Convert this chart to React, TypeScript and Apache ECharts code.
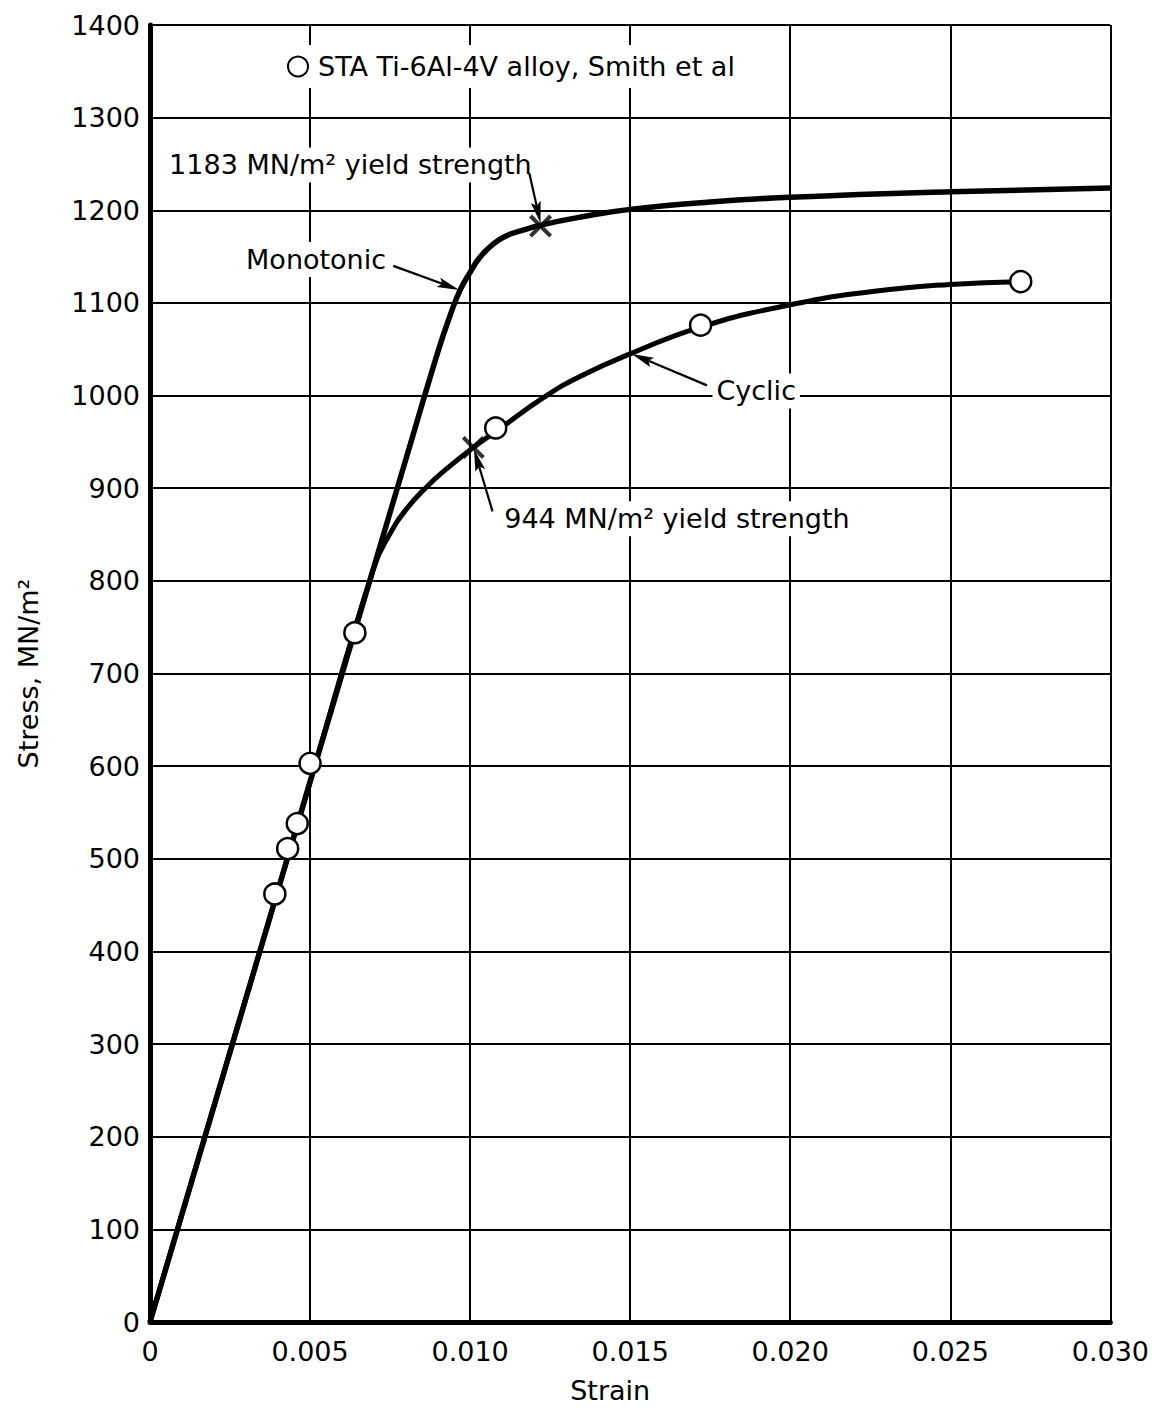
import React, { useEffect, useRef } from 'react';
import * as echarts from 'echarts';

const FONT = 'DejaVu Sans';

// Tick labels
const xTickLabels = ['0', '0.005', '0.010', '0.015', '0.020', '0.025', '0.030'];

// Monotonic stress-strain curve (strain, MN/m^2)
const monotonicStrain = [0, 0.005, 0.008, 0.009, 0.00937, 0.00969, 0.0100, 0.0103, 0.0107, 0.0111, 0.0116, 0.0122, 0.0135, 0.0150, 0.0175, 0.0200, 0.0250, 0.0300];
const monotonicStress = [0, 583, 932, 1048, 1086, 1114, 1133, 1149, 1163, 1172, 1178, 1184, 1193, 1201, 1209, 1214, 1220, 1224];

// Cyclic stress-strain curve
const cyclicStrain = [0, 0.005, 0.0070, 0.0075, 0.0080, 0.0086, 0.0093, 0.0101, 0.0108, 0.0123, 0.0134, 0.0150, 0.0172, 0.0200, 0.0225, 0.0250, 0.0272];
const cyclicStress = [0, 583, 815, 851, 877, 900, 922, 944, 961, 998, 1020, 1045, 1074, 1098, 1112, 1120, 1123];

// Smith et al data points (open circles)
const smithStrain = [0.0039, 0.0043, 0.0046, 0.0050, 0.0064, 0.0108, 0.0172, 0.0272];
const smithStress = [462, 511, 538, 603, 744, 965, 1076, 1123];

// Yield strength markers (x)
const yieldStrain = [0.0122, 0.0101];
const yieldStress = [1183, 944];

const legendName = 'STA Ti-6Al-4V alloy, Smith et al';

// Annotation texts anchored in data coordinates
const annotations = [
  { text: '1183 MN/m² yield strength', at: [0.01205, 1249], align: 'right' },
  { text: 'Monotonic', at: [0.0075, 1147], align: 'right' },
  { text: 'Cyclic', at: [0.01757, 1005], align: 'left' },
  { text: '944 MN/m² yield strength', at: [0.01094, 867], align: 'left' },
];

// Arrows: from -> to (data coordinates)
const arrows = [
  { from: [0.01185, 1240], to: [0.0122, 1186] },
  { from: [0.0076, 1140], to: [0.00966, 1114] },
  { from: [0.0174, 1011], to: [0.01505, 1045] },
  { from: [0.0107, 875], to: [0.01012, 942] },
];

const zip = (a: number[], b: number[]) => a.map((v, i) => [v, b[i]]);

export default function App() {
  const ref = useRef<HTMLDivElement>(null);
  useEffect(() => {
    const chart = echarts.init(ref.current!, null, { renderer: 'svg' });
    const axisFont = { fontFamily: FONT, fontSize: 27, color: '#000' };
    chart.setOption({
      animation: false,
      backgroundColor: '#fff',
      grid: { left: 150, right: 40, top: 25, bottom: 91, containLabel: false },
      legend: {
        show: true,
        data: [legendName],
        left: 279,
        top: 45,
        padding: [8, 8],
        backgroundColor: '#fff',
        itemWidth: 30,
        itemHeight: 20,
        textStyle: { fontFamily: FONT, fontSize: 27, color: '#000' },
        selectedMode: false,
        z: 10,
      },
      xAxis: {
        type: 'value',
        min: 0,
        max: 0.03,
        interval: 0.005,
        axisLine: { show: true, onZero: false, lineStyle: { color: '#000', width: 5 } },
        axisTick: { show: false },
        splitLine: { show: true, lineStyle: { color: '#000', width: 2 } },
        axisLabel: {
          ...axisFont,
          margin: 16,
          formatter: (v: number) => {
            const i = Math.round(v / 0.005);
            return xTickLabels[i] ?? '';
          },
        },
        name: 'Strain',
        nameLocation: 'middle',
        nameGap: 55,
        nameTextStyle: { ...axisFont, padding: [0, 40, 0, 0] },
      },
      yAxis: {
        type: 'value',
        min: 0,
        max: 1400,
        interval: 100,
        axisLine: { show: true, onZero: false, lineStyle: { color: '#000', width: 5 } },
        axisTick: { show: false },
        splitLine: { show: true, lineStyle: { color: '#000', width: 2 } },
        axisLabel: { ...axisFont, margin: 10, formatter: (v: number) => String(v) },
        name: 'Stress, MN/m²',
        nameLocation: 'middle',
        nameRotate: 90,
        nameGap: 108,
        nameTextStyle: { ...axisFont },
      },
      series: [
        {
          name: 'Monotonic',
          type: 'line',
          data: zip(monotonicStrain, monotonicStress),
          showSymbol: false,
          smooth: 0.5,
          lineStyle: { color: '#000', width: 5.5 },
          z: 3,
        },
        {
          name: 'Cyclic',
          type: 'line',
          data: zip(cyclicStrain, cyclicStress),
          showSymbol: false,
          smooth: 0.5,
          lineStyle: { color: '#000', width: 5 },
          z: 3,
        },
        {
          name: legendName,
          type: 'scatter',
          data: zip(smithStrain, smithStress),
          symbol: 'circle',
          symbolSize: 21,
          itemStyle: { color: '#fff', borderColor: '#000', borderWidth: 2.5, opacity: 1 },
          z: 5,
        },
        {
          name: 'Yield',
          type: 'scatter',
          data: zip(yieldStrain, yieldStress),
          symbol: 'path://M2.5,0 L10,7.5 L17.5,0 L20,2.5 L12.5,10 L20,17.5 L17.5,20 L10,12.5 L2.5,20 L0,17.5 L7.5,10 L0,2.5 Z',
          symbolSize: 23,
          itemStyle: { color: '#000' },
          z: 6,
        },
      ],
    });

    const px = (p: number[]) => chart.convertToPixel({ gridIndex: 0 }, p) as number[];
    const graphics: any[] = [];
    annotations.forEach((a) => {
      const [x, y] = px(a.at);
      graphics.push({
        type: 'text',
        x,
        y,
        z: 20,
        style: {
          text: a.text,
          fontFamily: FONT,
          fontSize: 27,
          fill: '#000',
          align: a.align,
          verticalAlign: 'middle',
          backgroundColor: '#fff',
          padding: [4, 4],
        },
      });
    });
    arrows.forEach((ar) => {
      const [x1, y1] = px(ar.from);
      const [x2, y2] = px(ar.to);
      const dx = x2 - x1;
      const dy = y2 - y1;
      const len = Math.sqrt(dx * dx + dy * dy);
      const ux = dx / len;
      const uy = dy / len;
      const nx = -uy;
      const ny = ux;
      const L = 22;
      const W = 5;
      const bx = x2 - ux * L;
      const by = y2 - uy * L;
      graphics.push({
        type: 'line',
        z: 21,
        shape: { x1, y1, x2: bx + ux * 4, y2: by + uy * 4 },
        style: { stroke: '#000', lineWidth: 2.2 },
      });
      graphics.push({
        type: 'polygon',
        z: 21,
        shape: {
          points: [
            [x2, y2],
            [bx + nx * W, by + ny * W],
            [bx + ux * 4, by + uy * 4],
            [bx - nx * W, by - ny * W],
          ],
        },
        style: { fill: '#000' },
      });
    });
    chart.setOption({ graphic: graphics });
    return () => chart.dispose();
  }, []);
  return (
    <div
      ref={ref}
      style={{ position: 'absolute', left: 0, top: 0, width: 1152, height: 1413, background: '#fff' }}
    />
  );
}
